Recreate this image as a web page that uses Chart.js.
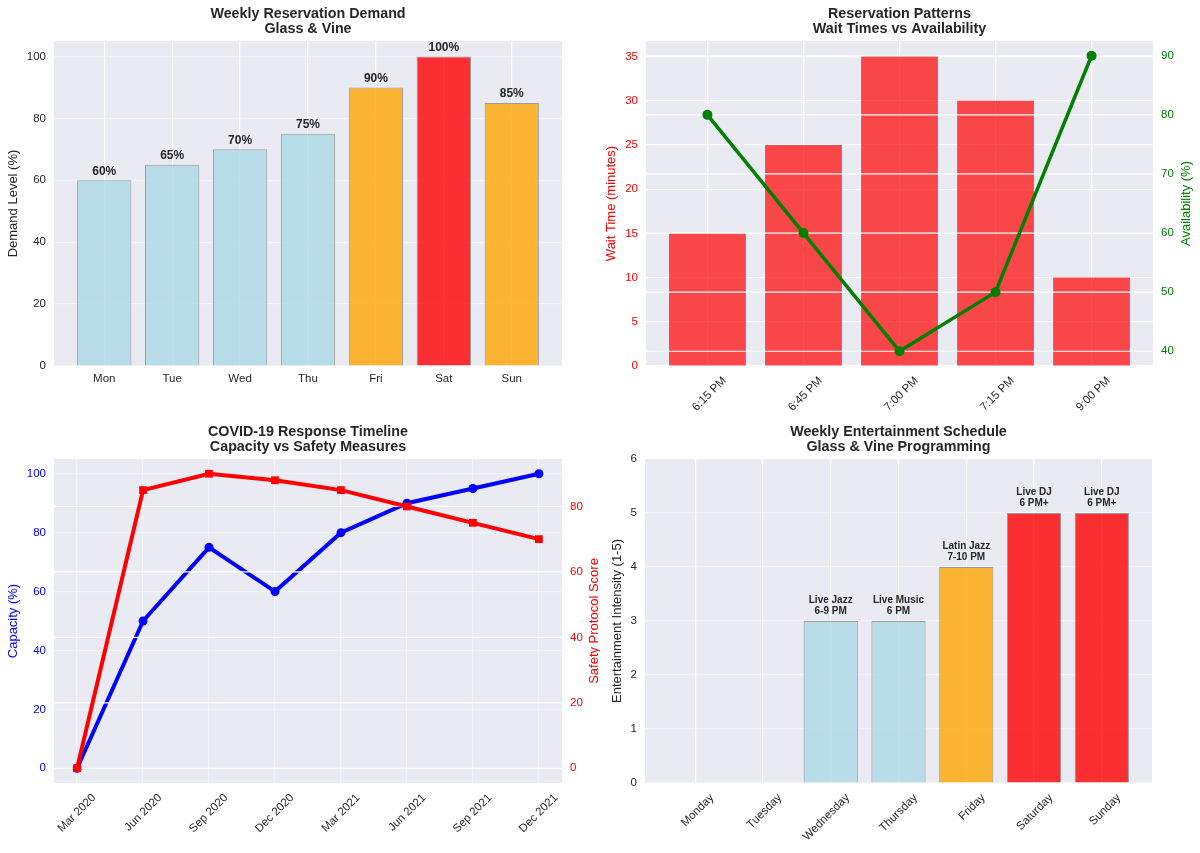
<!DOCTYPE html>
<html>
<head>
<meta charset="utf-8">
<script src="https://cdn.jsdelivr.net/npm/chart.js@4.4.0/dist/chart.umd.min.js"></script>
<style>
  html, body { margin: 0; padding: 0; background: #fff; }
  #wrap { position: relative; width: 1200px; height: 853px; }
  canvas { position: absolute; }
</style>
</head>
<body>
<div id="wrap">
  <canvas id="demand" width="600" height="420" style="left:0;top:0"></canvas>
  <canvas id="waits" width="600" height="420" style="left:600px;top:0"></canvas>
  <canvas id="covid" width="600" height="433" style="left:0;top:420px"></canvas>
  <canvas id="events" width="600" height="433" style="left:600px;top:420px"></canvas>
</div>
<script>
// --- data ---
const days = ['Mon', 'Tue', 'Wed', 'Thu', 'Fri', 'Sat', 'Sun'];
const demand = [60, 65, 70, 75, 90, 100, 85];
const demandTicks = [0, 20, 40, 60, 80, 100];

const slots = ['6:15 PM', '6:45 PM', '7:00 PM', '7:15 PM', '9:00 PM'];
const waitTimes = [15, 25, 35, 30, 10];
const availability = [80, 60, 40, 50, 90];
const waitTicks = [0, 5, 10, 15, 20, 25, 30, 35];
const availTicks = [40, 50, 60, 70, 80, 90];

const months = ['Mar 2020', 'Jun 2020', 'Sep 2020', 'Dec 2020', 'Mar 2021', 'Jun 2021', 'Sep 2021', 'Dec 2021'];
const capacity = [0, 50, 75, 60, 80, 90, 95, 100];
const safety = [0, 85, 90, 88, 85, 80, 75, 70];
const capacityTicks = [0, 20, 40, 60, 80, 100];
const safetyTicks = [0, 20, 40, 60, 80];

const weekdays = ['Monday', 'Tuesday', 'Wednesday', 'Thursday', 'Friday', 'Saturday', 'Sunday'];
const intensity = [0, 0, 3, 3, 4, 5, 5];
const shows = ['', '', 'Live Jazz\n6-9 PM', 'Live Music\n6 PM', 'Latin Jazz\n7-10 PM', 'Live DJ\n6 PM+', 'Live DJ\n6 PM+'];
const intensityTicks = [0, 1, 2, 3, 4, 5, 6];

// --- styles ---
const FONT = "'Liberation Sans', Arial, sans-serif";
const BG = '#EAEAF2';
const INK = '#262626';
const LIGHT = 'rgba(173,216,230,0.8)';
const ORANGE = 'rgba(255,165,0,0.8)';
const RED = 'rgba(255,0,0,0.8)';
const EDGE = 'rgba(128,128,128,0.75)';

Chart.defaults.font.family = FONT;
Chart.defaults.animation = false;
Chart.defaults.plugins.legend.display = false;
Chart.defaults.plugins.tooltip.enabled = false;

// grey panel behind each plot
const plotBg = {
  id: 'plotBg',
  beforeDraw(chart) {
    const { ctx, chartArea: a } = chart;
    ctx.save();
    ctx.fillStyle = BG;
    ctx.fillRect(a.left, a.top, a.right - a.left, a.bottom - a.top);
    ctx.restore();
  }
};

// two-line title centred on the plot, plus optional right-hand axis label
const axTitle = {
  id: 'axTitle',
  afterDraw(chart, args, opts) {
    const { ctx, chartArea: a } = chart;
    ctx.save();
    ctx.fillStyle = INK;
    ctx.font = 'bold 14.3px ' + FONT;
    ctx.textAlign = 'center';
    ctx.textBaseline = 'middle';
    opts.lines.forEach((t, i) => ctx.fillText(t, (a.left + a.right) / 2, opts.top + i * 15));
    if (opts.rightText) {
      ctx.translate(opts.rightX, (a.top + a.bottom) / 2);
      ctx.rotate(-Math.PI / 2);
      ctx.fillStyle = opts.rightColor;
      ctx.font = '13px ' + FONT;
      ctx.fillText(opts.rightText, 0, 0);
    }
    ctx.restore();
  }
};

// secondary axis grid, drawn right before the dataset that lives on it
const twinGrid = {
  id: 'twinGrid',
  beforeDatasetDraw(chart, args, opts) {
    if (args.index !== opts.index) return;
    const { ctx, chartArea: a } = chart;
    const s = chart.scales.y1;
    ctx.save();
    ctx.strokeStyle = '#ffffff';
    ctx.lineWidth = 1.2;
    s.ticks.forEach(t => {
      const y = s.getPixelForValue(t.value);
      ctx.beginPath();
      ctx.moveTo(a.left, y);
      ctx.lineTo(a.right, y);
      ctx.stroke();
    });
    ctx.restore();
  }
};

// text above each bar
const barLabels = {
  id: 'barLabels',
  afterDatasetsDraw(chart, args, opts) {
    const { ctx } = chart;
    const meta = chart.getDatasetMeta(0);
    ctx.save();
    ctx.fillStyle = INK;
    ctx.font = opts.font;
    ctx.textAlign = 'center';
    ctx.textBaseline = 'middle';
    meta.data.forEach((bar, i) => {
      const txt = opts.texts[i];
      if (!txt) return;
      const lines = txt.split('\n');
      lines.forEach((ln, k) => {
        ctx.fillText(ln, bar.x, bar.y - opts.gap - (lines.length - 1 - k) * opts.lineHeight);
      });
    });
    ctx.restore();
  }
};

Chart.register(plotBg);

const fixed = (list) => (s) => { s.ticks = list.map(v => ({ value: v })); };
const toXY = (arr) => arr.map((v, i) => ({ x: i, y: v }));

function indexAxis(names, min, max, height, rotated, faint) {
  return {
    type: 'linear', min: min, max: max,
    offset: false,
    afterBuildTicks: fixed(names.map((n, i) => i)),
    afterFit: (s) => { s.height = height; },
    border: { display: false },
    grid: { offset: false, color: faint ? 'rgba(255,255,255,0.45)' : '#ffffff', lineWidth: 1.2, drawTicks: false },
    ticks: {
      autoSkip: false,
      color: INK,
      font: { size: 11.5 },
      padding: rotated ? 8 : 6,
      minRotation: rotated ? 45 : 0,
      maxRotation: rotated ? 45 : 0,
      labelOffset: rotated ? 17 : 0,
      callback: (v) => names[v]
    }
  };
}

function valueAxis(opt) {
  return {
    position: opt.position || 'left',
    min: opt.min, max: opt.max,
    afterBuildTicks: fixed(opt.ticks),
    afterFit: (s) => { s.width = opt.width; },
    border: { display: false },
    grid: { display: opt.grid !== false, color: opt.gridColor || '#ffffff', lineWidth: 1.2, drawTicks: false },
    ticks: { color: opt.color || INK, font: { size: 11.5 }, padding: 8 },
    title: {
      display: !!opt.title, text: opt.title, color: opt.color || INK,
      font: { size: 13 }, padding: { top: opt.titlePad || 6, bottom: 0 }
    }
  };
}

// 1. weekly demand
new Chart(document.getElementById('demand'), {
  type: 'bar',
  data: {
    datasets: [{
      data: toXY(demand),
      backgroundColor: [LIGHT, LIGHT, LIGHT, LIGHT, ORANGE, RED, ORANGE],
      borderColor: EDGE,
      borderWidth: 1,
      barPercentage: 0.8,
      categoryPercentage: 1.0
    }]
  },
  options: {
    responsive: false,
    layout: { padding: { top: 41, right: 38, left: 0, bottom: 0 } },
    scales: {
      x: indexAxis(days, -0.74, 6.74, 54, false, false),
      y: valueAxis({ min: 0, max: 105, ticks: demandTicks, width: 54, gridColor: 'rgba(255,255,255,0.45)', title: 'Demand Level (%)', titlePad: 6 })
    },
    plugins: {
      axTitle: { lines: ['Weekly Reservation Demand', 'Glass & Vine'], top: 14 },
      barLabels: { texts: demand.map(v => v + '%'), font: 'bold 12px ' + FONT, gap: 9, lineHeight: 12 }
    }
  },
  plugins: [axTitle, barLabels]
});

// 2. wait times vs availability
new Chart(document.getElementById('waits'), {
  type: 'bar',
  data: {
    datasets: [{
      type: 'bar',
      order: 1,
      yAxisID: 'y',
      data: toXY(waitTimes),
      backgroundColor: 'rgba(255,0,0,0.7)',
      borderWidth: 0,
      barPercentage: 0.8,
      categoryPercentage: 1.0
    }, {
      type: 'line',
      order: 0,
      yAxisID: 'y1',
      data: toXY(availability),
      borderColor: '#008000',
      backgroundColor: '#008000',
      borderWidth: 3.5,
      pointRadius: 5,
      pointBorderWidth: 0,
      tension: 0
    }]
  },
  options: {
    responsive: false,
    layout: { padding: { top: 41, right: 0, left: 0, bottom: 0 } },
    scales: {
      x: indexAxis(slots, -0.64, 4.64, 54, true, false),
      y: valueAxis({ min: 0, max: 36.75, ticks: waitTicks, width: 46, color: '#ff0000', title: 'Wait Time (minutes)', titlePad: 4 }),
      y1: valueAxis({ position: 'right', min: 37.5, max: 92.5, ticks: availTicks, width: 47, color: '#008000', grid: false })
    },
    plugins: {
      axTitle: { lines: ['Reservation Patterns', 'Wait Times vs Availability'], top: 14, rightText: 'Availability (%)', rightX: 586, rightColor: '#008000' },
      twinGrid: { index: 1 }
    }
  },
  plugins: [axTitle, twinGrid]
});

// 3. covid timeline
new Chart(document.getElementById('covid'), {
  type: 'line',
  data: {
    datasets: [{
      order: 1,
      yAxisID: 'y',
      data: toXY(capacity),
      borderColor: '#0000ff',
      backgroundColor: '#0000ff',
      borderWidth: 4,
      pointRadius: 4.5,
      pointBorderWidth: 0,
      tension: 0
    }, {
      order: 0,
      yAxisID: 'y1',
      data: toXY(safety),
      borderColor: '#ff0000',
      backgroundColor: '#ff0000',
      borderWidth: 4,
      pointStyle: 'rect',
      pointRadius: 5.5,
      pointBorderWidth: 0,
      tension: 0
    }]
  },
  options: {
    responsive: false,
    layout: { padding: { top: 39, right: 0, left: 0, bottom: 0 } },
    scales: {
      x: indexAxis(months, -0.35, 7.35, 70, true, true),
      y: valueAxis({ min: -5, max: 105, ticks: capacityTicks, width: 54, color: '#0000ff', gridColor: 'rgba(255,255,255,0.45)', title: 'Capacity (%)', titlePad: 6 }),
      y1: valueAxis({ position: 'right', min: -4.5, max: 94.5, ticks: safetyTicks, width: 38, color: '#ff0000', grid: false })
    },
    plugins: {
      axTitle: { lines: ['COVID-19 Response Timeline', 'Capacity vs Safety Measures'], top: 12.5, rightText: 'Safety Protocol Score', rightX: 594, rightColor: '#ff0000' },
      twinGrid: { index: 1 }
    }
  },
  plugins: [axTitle, twinGrid]
});

// 4. entertainment schedule
new Chart(document.getElementById('events'), {
  type: 'bar',
  data: {
    datasets: [{
      data: toXY(intensity),
      backgroundColor: [LIGHT, LIGHT, LIGHT, LIGHT, ORANGE, RED, RED],
      borderColor: EDGE,
      borderWidth: 1,
      barPercentage: 0.8,
      categoryPercentage: 1.0
    }]
  },
  options: {
    responsive: false,
    layout: { padding: { top: 39, right: 48, left: 0, bottom: 0 } },
    scales: {
      x: indexAxis(weekdays, -0.74, 6.74, 70, true, false),
      y: valueAxis({ min: 0, max: 6, ticks: intensityTicks, width: 45, gridColor: 'rgba(255,255,255,0.45)', title: 'Entertainment Intensity (1-5)', titlePad: 10 })
    },
    plugins: {
      axTitle: { lines: ['Weekly Entertainment Schedule', 'Glass & Vine Programming'], top: 12.5 },
      barLabels: { texts: shows, font: 'bold 10px ' + FONT, gap: 10, lineHeight: 11 }
    }
  },
  plugins: [axTitle, barLabels]
});
</script>
</body>
</html>
